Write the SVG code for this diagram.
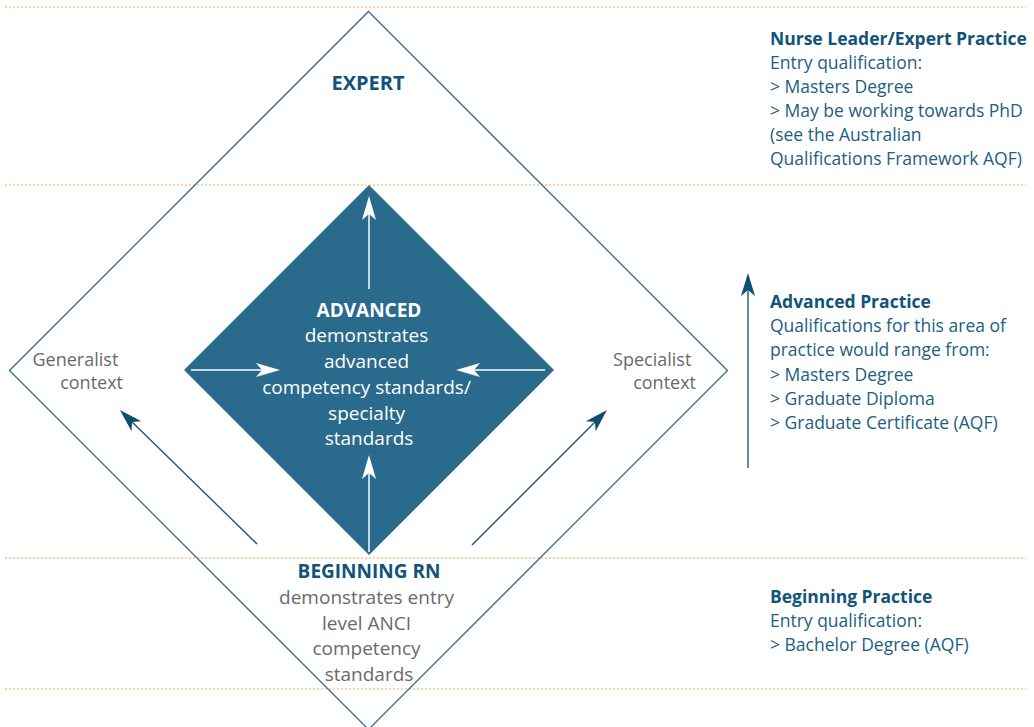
<svg xmlns="http://www.w3.org/2000/svg" width="1034" height="727" viewBox="0 0 1034 727">
  <style>
    .guide { stroke: #f2a84c; stroke-width: 1; stroke-dasharray: 2 2; fill: none; }
    .frame { fill: none; stroke: #2f6c8c; stroke-width: 1.3; }
    .core { fill: #2a6a8d; }
    .wline { stroke: #ffffff; stroke-width: 1.5; fill: none; }
    .dline { stroke: #1b5a7c; stroke-width: 1.4; fill: none; }
    text { font-family: "Open Sans", "Liberation Sans", sans-serif; }
    .head { font-weight: 700; fill: #12537a; }
    .headw { font-weight: 700; fill: #ffffff; }
    .white { fill: #ffffff; }
    .grey { fill: #6a6a6a; }
    .side { fill: #21607f; font-size: 17.5px; }
    .sidehead { fill: #12537a; font-weight: 700; font-size: 17.5px; }
  </style>
  <defs>
    <marker id="headWhite" markerUnits="userSpaceOnUse" orient="auto" refX="0" refY="0" markerWidth="30" markerHeight="20" overflow="visible">
      <path d="M12,0 L-12,-7 L-6,0 L-12,7 Z" fill="#ffffff"/>
    </marker>
    <marker id="headDark" markerUnits="userSpaceOnUse" orient="auto" refX="0" refY="0" markerWidth="30" markerHeight="20" overflow="visible">
      <path d="M12,0 L-11,-7 L-5,0 L-11,7 Z" fill="#0e4f71"/>
    </marker>
  </defs>

  <!-- dotted band separators -->
  <g id="bands">
    <line class="guide" x1="5" y1="7" x2="1026" y2="7"/>
    <line class="guide" x1="5" y1="185" x2="1026" y2="185"/>
    <line class="guide" x1="5" y1="558" x2="1026" y2="558"/>
    <line class="guide" x1="5" y1="689" x2="1026" y2="689"/>
  </g>

  <!-- outer practice diamond -->
  <g id="outer">
    <polygon class="frame" points="368.5,11.5 727.5,370.5 368.5,729.5 9.5,370.5"/>
  </g>

  <!-- advanced practice core -->
  <g id="advanced">
    <polygon class="core" points="369,185 554,370 369,555 184,370"/>
    <text class="headw" x="369" y="317" font-size="19" text-anchor="middle">ADVANCED</text>
    <text class="white" font-size="19" text-anchor="middle">
      <tspan x="369" y="342">demonstrates</tspan>
      <tspan x="369" y="368">advanced</tspan>
      <tspan x="369" y="394">competency standards/</tspan>
      <tspan x="369" y="420">specialty</tspan>
      <tspan x="369" y="445">standards</tspan>
    </text>
  </g>

  <g id="expert">
    <text class="head" x="368" y="90" font-size="20" text-anchor="middle">EXPERT</text>
  </g>

  <g id="generalist">
    <text class="grey" font-size="18" text-anchor="end">
      <tspan x="123" y="366">Generalist</tspan>
      <tspan x="123" y="389">context</tspan>
    </text>
  </g>

  <g id="specialist">
    <text class="grey" font-size="18" text-anchor="end">
      <tspan x="696" y="366">Specialist</tspan>
      <tspan x="696" y="389">context</tspan>
    </text>
  </g>

  <g id="beginning">
    <text class="head" x="369" y="578" font-size="19" text-anchor="middle">BEGINNING RN</text>
    <text class="grey" font-size="19" text-anchor="middle">
      <tspan x="369" y="604">demonstrates entry</tspan>
      <tspan x="369" y="630">level ANCI</tspan>
      <tspan x="369" y="655">competency</tspan>
      <tspan x="369" y="681">standards</tspan>
    </text>
  </g>

  <!-- side descriptions -->
  <g id="note-expert">
    <text class="sidehead" x="770" y="45">Nurse Leader/Expert Practice</text>
    <text class="side">
      <tspan x="770" y="69">Entry qualification:</tspan>
      <tspan x="770" y="93">&gt; Masters Degree</tspan>
      <tspan x="770" y="117">&gt; May be working towards PhD</tspan>
      <tspan x="770" y="141">(see the Australian</tspan>
      <tspan x="770" y="165">Qualifications Framework AQF)</tspan>
    </text>
  </g>

  <g id="note-advanced">
    <text class="sidehead" x="770" y="308">Advanced Practice</text>
    <text class="side">
      <tspan x="770" y="332">Qualifications for this area of</tspan>
      <tspan x="770" y="356">practice would range from:</tspan>
      <tspan x="770" y="381">&gt; Masters Degree</tspan>
      <tspan x="770" y="405">&gt; Graduate Diploma</tspan>
      <tspan x="770" y="429">&gt; Graduate Certificate (AQF)</tspan>
    </text>
  </g>

  <g id="note-beginning">
    <text class="sidehead" x="770" y="603">Beginning Practice</text>
    <text class="side">
      <tspan x="770" y="627">Entry qualification:</tspan>
      <tspan x="770" y="651">&gt; Bachelor Degree (AQF)</tspan>
    </text>
  </g>

  <!-- connectors -->
  <g id="connectors">
    <line class="wline" x1="369" y1="289" x2="369" y2="208" marker-end="url(#headWhite)"/>
    <line class="wline" x1="191" y1="370" x2="268" y2="370" marker-end="url(#headWhite)"/>
    <line class="wline" x1="545" y1="370" x2="468" y2="370" marker-end="url(#headWhite)"/>
    <line class="wline" x1="369" y1="552" x2="369" y2="467" marker-end="url(#headWhite)"/>
    <line class="dline" x1="257" y1="544" x2="128.5" y2="418.5" marker-end="url(#headDark)"/>
    <line class="dline" x1="472" y1="545" x2="598.5" y2="418.5" marker-end="url(#headDark)"/>
    <line class="dline" x1="748" y1="468" x2="748" y2="285" marker-end="url(#headDark)"/>
  </g>
</svg>
